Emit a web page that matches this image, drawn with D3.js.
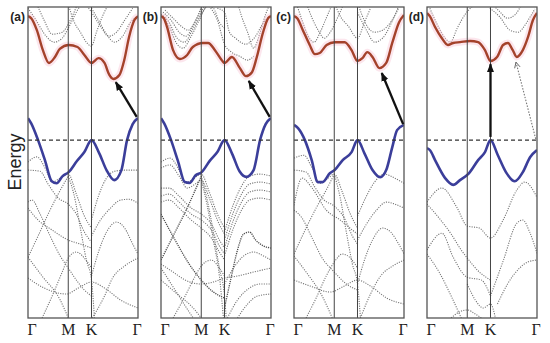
<!DOCTYPE html>
<html>
<head>
<meta charset="utf-8">
<script src="https://cdn.jsdelivr.net/npm/d3@7"></script>
<style>
  body { margin: 0; background: #fff; }
</style>
</head>
<body>
<div id="chart"></div>
<script>
var svgWidth = 550;
var svgHeight = 343;

// high-symmetry path (hexagonal BZ): Γ -> M -> K -> Γ
var kPoints = [0, 1, 1.577, 2.732];
var kLabels = ["Γ", "M", "K", "Γ"];
var panelNames = ["(a)", "(b)", "(c)", "(d)"];
var energyRange = [-4.45, 3.33];

// ---------- panel (a) ----------
var redA = [[0,3.10],[0.08,3.05],[0.22,2.75],[0.37,2.25],[0.52,1.93],[0.67,2.08],[0.79,2.28],[1.01,2.38],[1.23,2.33],[1.40,2.13],[1.577,1.93],[1.75,2.05],[1.90,1.93],[2.02,1.63],[2.12,1.53],[2.27,1.63],[2.39,2.00],[2.51,2.58],[2.64,3.00],[2.732,3.10]];
var blueA = [[0,0.55],[0.08,0.42],[0.25,0],[0.42,-0.50],[0.59,-1.03],[0.71,-1.08],[0.86,-0.90],[1.01,-0.80],[1.21,-0.53],[1.40,-0.30],[1.577,0],[1.77,-0.33],[1.95,-0.75],[2.14,-1.00],[2.32,-0.75],[2.46,0],[2.60,0.40],[2.732,0.55]];
var dotsA = [
  [[0,3.3],[0.2,3.0],[0.45,2.6],[0.65,2.45],[0.85,2.55],[1.0,2.8],[1.2,3.2],[1.35,3.45]],
  [[0.2,3.45],[0.4,3.0],[0.6,2.65],[0.85,2.7],[1.05,3.0],[1.25,3.45]],
  [[1.0,3.4],[1.15,2.95],[1.3,2.7],[1.45,2.45],[1.577,2.35],[1.7,2.7],[1.85,3.1],[2.0,3.4]],
  [[1.577,3.3],[1.75,3.0],[1.95,2.65],[2.15,2.45],[2.35,2.6],[2.55,2.95],[2.732,3.1]],
  [[1.4,3.45],[1.577,3.2],[1.8,2.85],[2.0,2.6],[2.2,2.7],[2.4,3.0],[2.6,3.3]],
  [[0,-0.55],[0.22,-0.42],[0.45,-0.75],[0.6,-1.05],[0.8,-0.95],[1.0,-0.85],[1.2,-1.35],[1.4,-1.9],[1.577,-2.2]],
  [[0,-0.75],[0.3,-0.78],[0.5,-1.1],[0.75,-1.45],[1.0,-1.6],[1.2,-1.85],[1.4,-2.3],[1.577,-2.55]],
  [[1.577,-2.0],[1.75,-1.4],[1.95,-0.95],[2.15,-0.78],[2.4,-0.75],[2.732,-0.75]],
  [[0,-2.93],[0.25,-2.4],[0.5,-1.85],[0.75,-1.35],[1.0,-0.9]],
  [[0,-1.55],[0.1,-1.5],[0.3,-1.85],[0.55,-2.4],[0.8,-2.9],[1.0,-3.2],[1.2,-3.5],[1.4,-3.75],[1.577,-3.9]],
  [[0,-1.7],[0.25,-2.0],[0.6,-2.25],[1.0,-2.5],[1.3,-2.6],[1.577,-2.7]],
  [[0,-2.93],[0.35,-3.4],[0.8,-4.0],[1.0,-4.45]],
  [[1.0,-0.9],[1.15,-1.4],[1.3,-2.2],[1.45,-3.0],[1.577,-3.5],[1.65,-4.45]],
  [[1.577,-3.4],[1.75,-2.8],[1.95,-2.3],[2.2,-2.05],[2.4,-2.2],[2.6,-2.6],[2.732,-2.85]],
  [[1.577,-2.4],[1.8,-2.0],[2.05,-1.7],[2.3,-1.5],[2.5,-1.48],[2.732,-1.58]],
  [[1.6,-4.45],[1.9,-3.9],[2.1,-3.45],[2.4,-3.15],[2.732,-2.95]],
  [[0,-3.45],[0.4,-3.7],[0.95,-3.85],[1.25,-3.7],[1.577,-3.55],[1.9,-3.7],[2.3,-4.0],[2.732,-4.2]],
  [[0.35,-4.45],[0.6,-3.9],[0.85,-3.3],[1.0,-2.95],[1.2,-2.8],[1.4,-2.95],[1.577,-3.2]]
];
var darkA = [];
var arrowsA = [{from: [2.70, 0.58], to: [2.18, 1.45], dotted: false}];

// ---------- panel (b) ----------
var redB = [[0,3.10],[0.07,3.05],[0.15,2.83],[0.30,2.25],[0.47,2.03],[0.65,2.13],[0.79,2.33],[1.04,2.43],[1.17,2.43],[1.34,2.25],[1.51,2.00],[1.577,1.93],[1.76,2.08],[1.96,1.80],[2.11,1.60],[2.26,1.70],[2.38,2.08],[2.53,2.68],[2.66,3.05],[2.732,3.10]];
var blueB = [[0,0.55],[0.08,0.42],[0.25,0],[0.42,-0.52],[0.59,-1.05],[0.71,-1.07],[0.86,-0.88],[1.01,-0.80],[1.21,-0.52],[1.40,-0.30],[1.577,0],[1.77,-0.35],[1.95,-0.78],[2.12,-0.92],[2.30,-0.75],[2.46,0],[2.60,0.40],[2.732,0.55]];
var dotsB = [
  [[0,3.1],[0.2,2.85],[0.4,2.4],[0.55,2.3],[0.75,2.6],[0.95,3.0],[1.15,3.35],[1.3,3.3],[1.45,2.95],[1.577,2.8]],
  [[0,3.15],[0.2,2.95],[0.4,2.55],[0.58,2.45],[0.78,2.75],[1.0,3.15],[1.2,3.45]],
  [[0.05,3.2],[0.25,3.0],[0.45,2.7],[0.62,2.6],[0.82,2.9],[1.05,3.3],[1.15,3.45]],
  [[0.1,3.25],[0.3,3.05],[0.5,2.85],[0.68,2.75],[0.88,3.05],[1.05,3.45]],
  [[1.4,3.3],[1.577,3.2],[1.7,2.7],[1.85,2.55],[2.1,2.4],[2.35,2.6],[2.55,2.95],[2.732,3.1]],
  [[1.9,3.45],[2.0,3.1],[2.15,2.7],[2.3,2.3],[2.45,2.65],[2.6,3.15],[2.7,3.4]],
  [[1.2,3.35],[1.4,3.0],[1.577,2.4],[1.75,2.2],[1.95,2.1],[2.15,2.0],[2.3,2.1]],
  [[0,-1.2],[0.2,-1.2],[0.45,-1.4],[0.75,-1.7],[1.0,-1.85],[1.25,-2.1],[1.45,-2.5],[1.577,-2.7]],
  [[0,-1.4],[0.2,-1.35],[0.45,-1.55],[0.75,-1.85],[1.0,-2.0],[1.25,-2.25],[1.45,-2.65],[1.577,-2.85]],
  [[0,-1.55],[0.2,-1.5],[0.45,-1.7],[0.75,-2.0],[1.0,-2.2],[1.25,-2.45],[1.45,-2.8],[1.577,-3.0]],
  [[0,-0.55],[0.22,-0.45],[0.45,-0.75],[0.6,-1.08],[0.8,-0.97],[1.0,-0.85],[1.2,-1.3],[1.4,-1.85],[1.577,-2.2]],
  [[0,-0.7],[0.22,-0.62],[0.45,-0.9],[0.65,-1.2],[0.85,-1.1],[1.0,-1.0],[1.2,-1.45],[1.4,-2.0],[1.577,-2.35]],
  [[0,-3.1],[0.3,-3.3],[0.6,-3.5],[1.0,-3.6],[1.3,-3.55],[1.577,-3.45],[1.9,-3.4],[2.3,-3.3],[2.732,-3.2]],
  [[0,-3.5],[0.4,-3.85],[0.8,-4.2],[1.0,-4.45]],
  [[0,-3.2],[0.35,-3.75],[0.7,-4.3],[0.8,-4.45]],
  [[1.0,-0.9],[1.15,-1.5],[1.3,-2.3],[1.45,-3.2],[1.577,-3.9],[1.62,-4.45]],
  [[1.0,-1.0],[1.15,-1.65],[1.3,-2.5],[1.45,-3.4],[1.55,-4.45]],
  [[1.577,-2.3],[1.8,-1.6],[2.0,-1.15],[2.2,-0.9],[2.45,-0.85],[2.732,-0.9]],
  [[1.577,-2.5],[1.8,-1.8],[2.0,-1.35],[2.2,-1.1],[2.45,-1.05],[2.732,-1.1]],
  [[1.577,-2.7],[1.8,-2.0],[2.0,-1.55],[2.2,-1.3],[2.45,-1.25],[2.732,-1.3]],
  [[1.577,-2.9],[1.8,-2.2],[2.0,-1.75],[2.2,-1.5],[2.45,-1.45],[2.732,-1.5]],
  [[1.577,-3.6],[1.8,-3.2],[2.05,-2.9],[2.3,-2.8],[2.55,-2.9],[2.732,-3.0]],
  [[1.65,-4.45],[1.9,-4.0],[2.2,-3.7],[2.45,-3.6],[2.732,-3.6]],
  [[1.9,-4.45],[2.15,-4.1],[2.4,-3.9],[2.732,-3.85]],
  [[0.3,-4.45],[0.6,-3.9],[0.85,-3.4],[1.0,-3.15],[1.25,-3.0],[1.45,-3.2],[1.577,-3.4]]
];
var darkB = [
  [[0,-3.0],[0.35,-2.3],[0.65,-1.7],[0.85,-1.25],[1.0,-0.9]],
  [[0,-1.85],[0.35,-2.5],[0.7,-3.1],[1.0,-3.5],[1.3,-3.8],[1.577,-3.95]],
  [[1.577,-4.2],[1.75,-3.4],[1.9,-2.75],[2.05,-2.35],[2.2,-2.3],[2.35,-2.5],[2.55,-2.65],[2.732,-2.7]]
];
var arrowsB = [{from: [2.70, 0.58], to: [2.18, 1.48], dotted: false}];

// ---------- panel (c) ----------
var redC = [[0,3.10],[0.08,3.05],[0.22,2.75],[0.39,2.38],[0.52,2.15],[0.64,2.18],[0.81,2.38],[1.01,2.45],[1.26,2.45],[1.43,2.25],[1.577,1.98],[1.70,2.05],[1.82,2.20],[1.95,2.08],[2.12,1.80],[2.29,1.93],[2.44,2.43],[2.61,2.95],[2.732,3.13]];
var blueC = [[0,0.38],[0.1,0.3],[0.27,0],[0.44,-0.50],[0.59,-1.05],[0.71,-1.05],[0.89,-0.83],[1.01,-0.75],[1.21,-0.50],[1.43,-0.30],[1.577,0],[1.75,-0.33],[1.95,-0.75],[2.14,-0.93],[2.29,-0.75],[2.44,-0.18],[2.56,0.25],[2.732,0.38]];
var dotsC = [
  [[0.05,3.45],[0.2,3.0],[0.35,2.6],[0.5,2.45],[0.65,2.7],[0.8,3.05],[0.95,3.4]],
  [[0.3,3.45],[0.45,3.05],[0.6,2.75],[0.75,2.55],[0.9,2.7],[1.1,3.1],[1.25,3.45]],
  [[1.0,3.45],[1.15,3.1],[1.35,2.85],[1.577,2.55],[1.75,2.95],[1.9,3.3]],
  [[1.577,3.45],[1.7,3.1],[1.85,2.8],[2.0,2.7],[2.2,2.75],[2.4,2.95],[2.6,3.3]],
  [[1.577,3.2],[1.8,2.75],[2.0,2.45],[2.2,2.55],[2.45,3.0],[2.6,3.35]],
  [[0,-0.45],[0.25,-0.38],[0.45,-0.7],[0.65,-1.08],[0.85,-0.95],[1.0,-0.85],[1.2,-1.3],[1.4,-1.85],[1.577,-2.2]],
  [[0,-1.63],[0.2,-0.95],[0.45,-1.2],[0.8,-1.75],[1.15,-2.0],[1.45,-2.25],[1.577,-2.35]],
  [[0,-2.85],[0.3,-2.2],[0.55,-1.7],[0.8,-1.25],[1.0,-0.85]],
  [[0,-1.75],[0.2,-1.95],[0.45,-2.45],[0.7,-2.95],[1.0,-3.3],[1.3,-3.6],[1.577,-3.75]],
  [[0,-2.9],[0.3,-3.3],[0.7,-3.9],[0.95,-4.45]],
  [[0,-3.5],[0.4,-3.65],[0.9,-3.8],[1.25,-3.65],[1.577,-3.5],[1.9,-3.65],[2.3,-3.95],[2.732,-4.1]],
  [[1.0,-0.85],[1.15,-1.45],[1.3,-2.3],[1.45,-3.1],[1.577,-3.6],[1.65,-4.45]],
  [[1.577,-1.9],[1.8,-1.4],[2.0,-1.05],[2.25,-0.85],[2.5,-0.95],[2.732,-1.08]],
  [[1.577,-2.5],[1.8,-2.1],[2.05,-1.75],[2.3,-1.55],[2.5,-1.6],[2.732,-1.7]],
  [[1.577,-3.6],[1.75,-3.0],[1.95,-2.5],[2.2,-2.2],[2.4,-2.3],[2.6,-2.6],[2.732,-2.85]],
  [[1.65,-4.45],[1.9,-3.85],[2.15,-3.4],[2.45,-3.15],[2.732,-3.0]],
  [[0.3,-4.45],[0.55,-3.95],[0.8,-3.4],[1.0,-3.05],[1.2,-2.85],[1.4,-2.95],[1.577,-3.2]],
  [[0,-0.75],[0.3,-0.8],[0.5,-1.15],[0.75,-1.5],[1.0,-1.65],[1.25,-1.95],[1.45,-2.4],[1.577,-2.6]]
];
var darkC = [];
var arrowsC = [{from: [2.71, 0.40], to: [2.18, 1.68], dotted: false}];

// ---------- panel (d) ----------
var redD = [[0,3.18],[0.07,3.10],[0.20,2.83],[0.37,2.55],[0.52,2.38],[0.65,2.43],[0.82,2.45],[1.07,2.48],[1.27,2.45],[1.44,2.25],[1.577,1.98],[1.74,2.08],[1.89,2.38],[2.01,2.43],[2.13,2.25],[2.23,2.08],[2.38,2.25],[2.51,2.58],[2.63,3.00],[2.732,3.18]];
var blueD = [[0,-0.20],[0.08,-0.26],[0.20,-0.50],[0.45,-0.95],[0.65,-1.12],[0.82,-1.00],[1.04,-0.83],[1.27,-0.50],[1.44,-0.30],[1.577,0],[1.76,-0.38],[1.96,-0.80],[2.18,-1.03],[2.38,-0.80],[2.56,-0.43],[2.732,-0.25]];
var dotsD = [
  [[0.07,3.3],[0.25,2.9],[0.45,2.55],[0.58,2.45],[0.75,2.8],[0.95,3.15],[1.2,3.4]],
  [[1.56,3.3],[1.81,3.08],[2.06,2.75],[2.26,2.7],[2.45,2.9],[2.56,3.08],[2.68,3.28]],
  [[1.62,3.4],[1.8,3.22],[2.0,3.05],[2.2,3.15],[2.35,3.4]],
  [[0,-1.55],[0.37,-1.2],[0.74,-1.68],[1.0,-2.15],[1.3,-2.2],[1.577,-2.45],[1.89,-2.0],[2.23,-1.25],[2.43,-1.05],[2.732,-1.43]],
  [[0,-2.75],[0.37,-2.33],[0.65,-2.93],[1.0,-3.43],[1.35,-3.5],[1.577,-3.9]],
  [[1.577,-3.9],[1.9,-3.0],[2.23,-2.08],[2.38,-2.0],[2.55,-2.3],[2.732,-2.83]],
  [[1.75,-4.1],[2.0,-3.6],[2.3,-3.2],[2.5,-3.05],[2.732,-3.0]],
  [[0,-1.6],[0.3,-1.95],[0.6,-2.35],[0.85,-2.75],[1.0,-2.95],[1.3,-3.3],[1.577,-3.5]],
  [[1.0,-3.6],[1.2,-4.0],[1.4,-4.2],[1.577,-4.1],[1.7,-4.45]],
  [[0,-2.85],[0.3,-3.3],[0.6,-3.9],[0.85,-4.45]],
  [[0.6,-4.45],[0.8,-4.3],[1.0,-4.25],[1.2,-4.35],[1.35,-4.45]]
];
var darkD = [];
var arrowsD = [
  {from: [1.577, 0.08], to: [1.577, 1.90], dotted: false},
  {from: [2.70, 0.03], to: [2.21, 1.95], dotted: true}
];

// ---------- layout ----------
var panelLeft = [28, 161, 294, 427];
var panelWidth = 110;
var plotTop = 7;
var plotBottom = 318;

var panels = [
  {name: panelNames[0], red: redA, blue: blueA, dots: dotsA, dark: darkA, arrows: arrowsA},
  {name: panelNames[1], red: redB, blue: blueB, dots: dotsB, dark: darkB, arrows: arrowsB},
  {name: panelNames[2], red: redC, blue: blueC, dots: dotsC, dark: darkC, arrows: arrowsC},
  {name: panelNames[3], red: redD, blue: blueD, dots: dotsD, dark: darkD, arrows: arrowsD}
];

var svg = d3.select("#chart")
  .append("svg")
  .attr("width", svgWidth)
  .attr("height", svgHeight)
  .style("font-family", "Liberation Sans, Arial, sans-serif");

var defs = svg.append("defs");

defs.append("marker")
  .attr("id", "headSolid")
  .attr("viewBox", "0 0 10 10")
  .attr("refX", 9).attr("refY", 5)
  .attr("markerWidth", 9).attr("markerHeight", 9)
  .attr("markerUnits", "userSpaceOnUse")
  .attr("orient", "auto")
  .append("path")
  .attr("d", "M0,1 L10,5 L0,9 Z")
  .attr("fill", "#111");

defs.append("marker")
  .attr("id", "headOpen")
  .attr("viewBox", "0 0 10 10")
  .attr("refX", 9).attr("refY", 5)
  .attr("markerWidth", 7).attr("markerHeight", 7)
  .attr("markerUnits", "userSpaceOnUse")
  .attr("orient", "auto")
  .append("path")
  .attr("d", "M1,1 L9,5 L1,9")
  .attr("fill", "none")
  .attr("stroke", "#666")
  .attr("stroke-width", 1.3);

var y = d3.scaleLinear().domain(energyRange).range([plotBottom, plotTop]);

panels.forEach(function(p, i) {
  var left = panelLeft[i];
  var x = d3.scaleLinear().domain([0, kPoints[3]]).range([left, left + panelWidth]);

  var line = d3.line()
    .x(d => x(d[0]))
    .y(d => y(d[1]))
    .curve(d3.curveMonotoneX);

  defs.append("clipPath")
    .attr("id", "clip" + i)
    .append("rect")
    .attr("x", left).attr("y", plotTop)
    .attr("width", panelWidth).attr("height", plotBottom - plotTop);

  var g = svg.append("g");
  var inner = g.append("g").attr("clip-path", "url(#clip" + i + ")");

  // grey dotted bands
  inner.selectAll(".band")
    .data(p.dots)
    .enter()
    .append("path")
    .attr("d", line)
    .attr("fill", "none")
    .attr("stroke", "#737373")
    .attr("stroke-width", 1.1)
    .attr("stroke-dasharray", "1.1,1.3");

  inner.selectAll(".dark")
    .data(p.dark)
    .enter()
    .append("path")
    .attr("d", line)
    .attr("fill", "none")
    .attr("stroke", "#4d4d4d")
    .attr("stroke-width", 1.3)
    .attr("stroke-dasharray", "1.2,1.0");

  // vertical lines at M and K
  g.selectAll(".kline")
    .data([kPoints[1], kPoints[2]])
    .enter()
    .append("line")
    .attr("x1", d => x(d)).attr("x2", d => x(d))
    .attr("y1", plotTop).attr("y2", plotBottom)
    .attr("stroke", "#444")
    .attr("stroke-width", 1);

  // Fermi level
  g.append("line")
    .attr("x1", x(0)).attr("x2", x(kPoints[3]))
    .attr("y1", y(0)).attr("y2", y(0))
    .attr("stroke", "#333")
    .attr("stroke-width", 1.1)
    .attr("stroke-dasharray", "4,3");

  // conduction band with faint glow
  inner.append("path")
    .attr("d", line(p.red))
    .attr("fill", "none")
    .attr("stroke", "#f9c8d6")
    .attr("stroke-width", 7)
    .attr("stroke-opacity", 0.45)
    .attr("stroke-linejoin", "round");

  inner.append("path")
    .attr("d", line(p.red))
    .attr("fill", "none")
    .attr("stroke", "#a4422b")
    .attr("stroke-width", 2.4);

  // valence band
  inner.append("path")
    .attr("d", line(p.blue))
    .attr("fill", "none")
    .attr("stroke", "#3b3e9a")
    .attr("stroke-width", 2.6);

  // frame
  g.append("rect")
    .attr("x", left).attr("y", plotTop)
    .attr("width", panelWidth).attr("height", plotBottom - plotTop)
    .attr("fill", "none")
    .attr("stroke", "#555")
    .attr("stroke-width", 1.3);

  // transition arrows
  p.arrows.forEach(function(a) {
    g.append("line")
      .attr("x1", x(a.from[0])).attr("y1", y(a.from[1]))
      .attr("x2", x(a.to[0])).attr("y2", y(a.to[1]))
      .attr("stroke", a.dotted ? "#777" : "#111")
      .attr("stroke-width", a.dotted ? 1.1 : 2.3)
      .attr("stroke-dasharray", a.dotted ? "1.5,1.5" : null)
      .attr("marker-end", a.dotted ? "url(#headOpen)" : "url(#headSolid)");
  });

  // k labels
  g.selectAll(".klabel")
    .data(kPoints)
    .enter()
    .append("text")
    .attr("x", (d, j) => x(d) + (j === 0 ? 4 : (j === 3 ? -1 : 0)))
    .attr("y", 335)
    .attr("text-anchor", "middle")
    .style("font-family", "Liberation Serif, Times New Roman, serif")
    .style("font-size", "16px")
    .attr("fill", "#222")
    .text((d, j) => kLabels[j]);

  // panel tag
  g.append("text")
    .attr("x", left - 3)
    .attr("y", 21)
    .attr("text-anchor", "end")
    .style("font-size", "12px")
    .style("font-weight", "bold")
    .attr("fill", "#222")
    .text(p.name);
});

// y axis title
svg.append("text")
  .attr("transform", "translate(21,162) rotate(-90)")
  .attr("text-anchor", "middle")
  .style("font-size", "18px")
  .attr("fill", "#222")
  .text("Energy");
</script>
</body>
</html>
